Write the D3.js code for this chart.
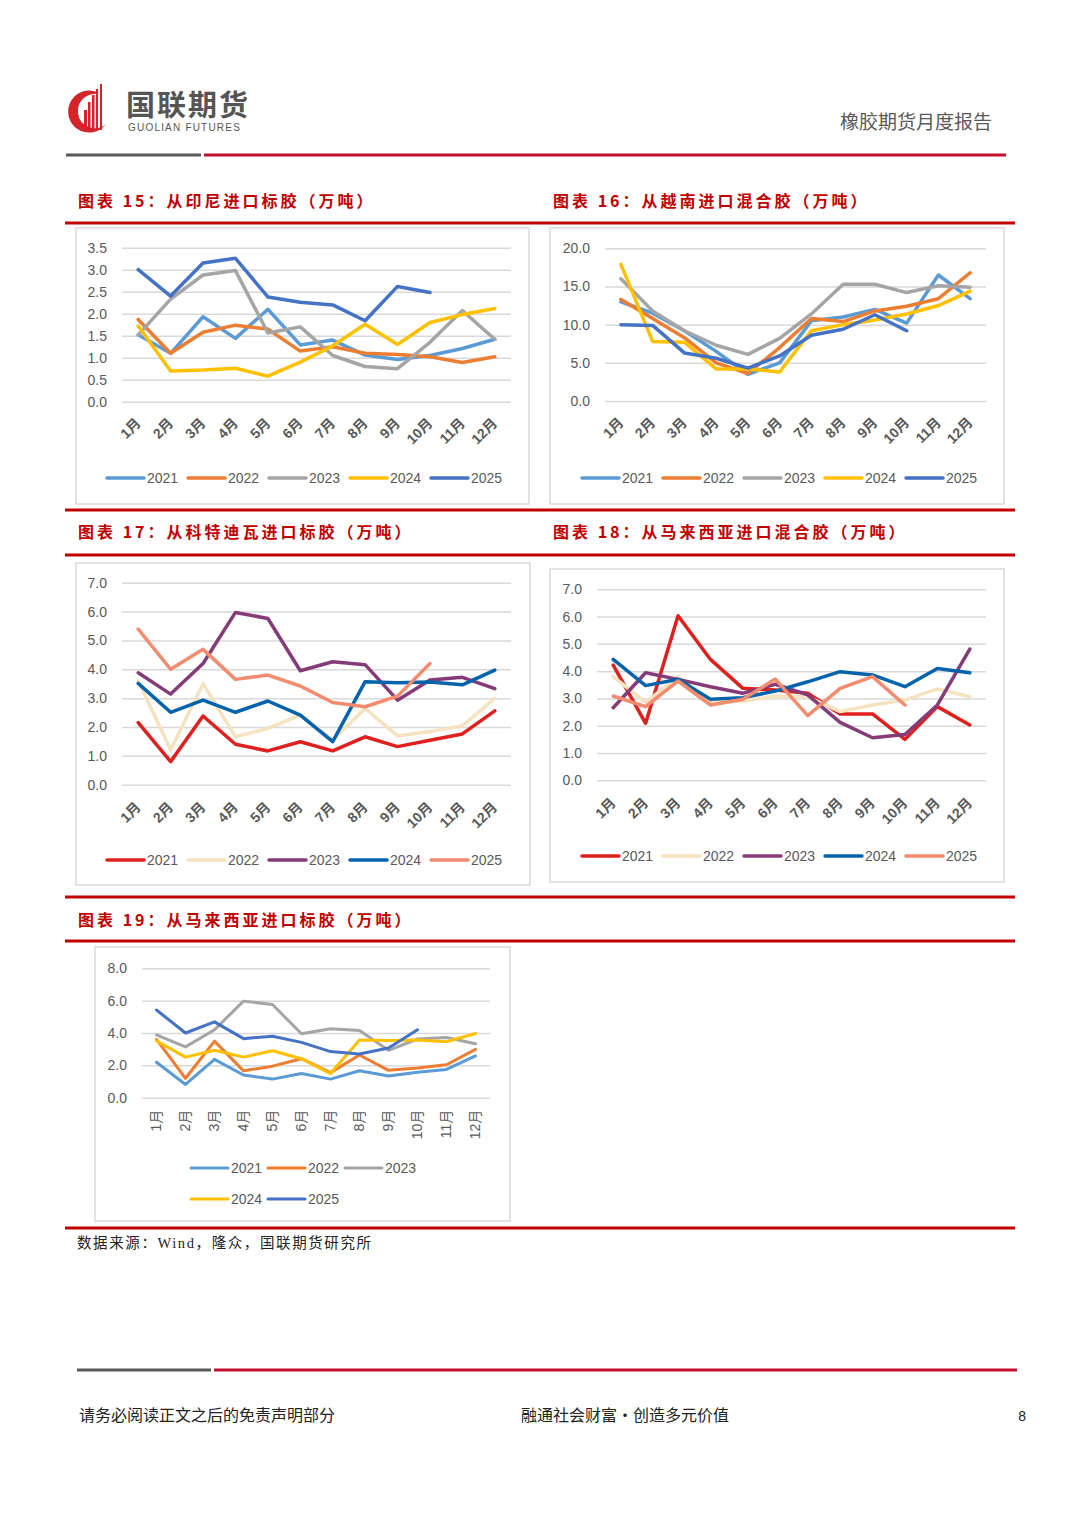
<!DOCTYPE html>
<html>
<head>
<meta charset="utf-8">
<script src="https://cdn.jsdelivr.net/npm/d3@7"></script>
<style>
  body { margin: 0; background: #fff; }
  svg { display: block; }
</style>
</head>
<body>
<svg id="page" width="1080" height="1527"></svg>
<script>
const months = ["1月", "2月", "3月", "4月", "5月", "6月", "7月", "8月", "9月", "10月", "11月", "12月"];
const years = ["2021", "2022", "2023", "2024", "2025"];

// 图表15 从印尼进口标胶
const indo2021 = [1.52, 1.10, 1.93, 1.44, 2.10, 1.29, 1.40, 1.06, 0.96, 1.05, 1.21, 1.42];
const indo2022 = [1.87, 1.10, 1.58, 1.74, 1.65, 1.15, 1.25, 1.10, 1.07, 1.02, 0.89, 1.02];
const indo2023 = [1.52, 2.33, 2.88, 2.98, 1.56, 1.70, 1.05, 0.80, 0.75, 1.35, 2.07, 1.42];
const indo2024 = [1.72, 0.70, 0.72, 0.76, 0.58, 0.90, 1.27, 1.76, 1.30, 1.80, 1.98, 2.12];
const indo2025 = [3.00, 2.40, 3.15, 3.26, 2.38, 2.26, 2.20, 1.84, 2.62, 2.48];

// 图表16 从越南进口混合胶
const viet2021 = [13.0, 11.5, 9.2, 6.5, 3.5, 5.0, 10.5, 11.0, 12.0, 10.2, 16.5, 13.4];
const viet2022 = [13.3, 10.8, 8.3, 5.0, 3.6, 7.0, 10.8, 10.4, 11.8, 12.4, 13.4, 16.8];
const viet2023 = [16.0, 11.8, 9.2, 7.3, 6.1, 8.2, 11.4, 15.3, 15.3, 14.2, 15.1, 14.9];
const viet2024 = [17.9, 7.8, 7.7, 4.2, 4.2, 3.8, 9.2, 10.0, 10.6, 11.4, 12.5, 14.4];
const viet2025 = [10.0, 9.9, 6.3, 5.6, 4.3, 5.9, 8.6, 9.4, 11.3, 9.2];

// 图表17 从科特迪瓦进口标胶
const civ2021 = [2.15, 0.80, 2.38, 1.40, 1.17, 1.49, 1.17, 1.66, 1.32, 1.54, 1.76, 2.56];
const civ2022 = [3.60, 1.20, 3.50, 1.66, 1.95, 2.41, 1.55, 2.64, 1.69, 1.84, 2.04, 2.99];
const civ2023 = [3.88, 3.14, 4.20, 5.97, 5.76, 3.95, 4.26, 4.16, 2.93, 3.63, 3.72, 3.33];
const civ2024 = [3.51, 2.51, 2.93, 2.51, 2.90, 2.41, 1.49, 3.57, 3.53, 3.56, 3.46, 3.97];
const civ2025 = [5.39, 4.00, 4.69, 3.65, 3.80, 3.42, 2.85, 2.70, 3.07, 4.20];

// 图表18 从马来西亚进口混合胶
const myMix2021 = [4.22, 2.09, 6.03, 4.43, 3.37, 3.31, 3.19, 2.43, 2.43, 1.50, 2.70, 2.03];
const myMix2022 = [3.80, 2.86, 3.80, 2.86, 2.90, 3.09, 3.06, 2.52, 2.76, 2.94, 3.35, 3.06];
const myMix2023 = [2.66, 3.94, 3.70, 3.43, 3.19, 3.52, 3.13, 2.12, 1.56, 1.68, 2.76, 4.81];
const myMix2024 = [4.43, 3.47, 3.70, 2.97, 3.03, 3.27, 3.61, 3.98, 3.86, 3.43, 4.10, 3.94];
const myMix2025 = [3.09, 2.70, 3.64, 2.76, 2.97, 3.71, 2.37, 3.37, 3.80, 2.76];

// 图表19 从马来西亚进口标胶
const myStd2021 = [2.19, 0.82, 2.37, 1.40, 1.15, 1.50, 1.15, 1.67, 1.34, 1.57, 1.75, 2.58];
const myStd2022 = [3.60, 1.20, 3.50, 1.66, 1.95, 2.41, 1.55, 2.64, 1.69, 1.84, 2.04, 2.99];
const myStd2023 = [3.88, 3.14, 4.20, 5.97, 5.76, 3.95, 4.26, 4.16, 2.93, 3.63, 3.72, 3.33];
const myStd2024 = [3.51, 2.51, 2.93, 2.51, 2.90, 2.41, 1.49, 3.57, 3.53, 3.56, 3.46, 3.97];
const myStd2025 = [5.42, 4.00, 4.69, 3.65, 3.80, 3.42, 2.85, 2.70, 3.07, 4.20];

const officeColors = ["#5b9bd5", "#ed7d31", "#a5a5a5", "#ffc000", "#4472c4"];
const warmColors = ["#e0201f", "#f5e2bf", "#853b78", "#0563ac", "#f38b6e"];

const svg = d3.select("#page");
const txtFont = "'Liberation Sans', 'Noto Sans CJK SC', sans-serif";
const cjkFont = "'Noto Sans CJK SC', sans-serif";

// ---- header ----
const logo = svg.append("g");
logo.append("path")
  .attr("d", "M99,93 A21,21 0 1 0 106,124 A17,17 0 0 1 78,113 A17,17 0 0 1 94,94 Z")
  .attr("fill", "#d3232b");
[[84, 110, 3], [88, 102, 2.5], [92, 95, 2.5], [96, 89, 2], [100, 84, 2]].forEach(b => {
  logo.append("rect").attr("x", b[0]).attr("y", b[1]).attr("width", b[2]).attr("height", 130 - b[1])
    .attr("fill", "#d3232b");
});
logo.append("text").attr("x", 126).attr("y", 116).text("国联期货")
  .attr("font-family", cjkFont).attr("font-size", 29).attr("font-weight", "bold")
  .attr("fill", "#555").attr("letter-spacing", 2);
logo.append("text").attr("x", 128).attr("y", 131).text("GUOLIAN FUTURES")
  .attr("font-family", txtFont).attr("font-size", 10).attr("fill", "#555")
  .attr("letter-spacing", 1.2);

svg.append("text").attr("x", 992).attr("y", 129).attr("text-anchor", "end")
  .text("橡胶期货月度报告").attr("font-family", cjkFont).attr("font-size", 19).attr("fill", "#595959");

function doubleRule(y, x0, xm, x1) {
  svg.append("rect").attr("x", x0).attr("y", y - 1.5).attr("width", xm - x0).attr("height", 3).attr("fill", "#595959");
  svg.append("rect").attr("x", xm + 3).attr("y", y - 1.5).attr("width", x1 - xm - 3).attr("height", 3).attr("fill", "#c8102e");
}
doubleRule(155, 66, 201, 1006);
doubleRule(1370, 77, 211, 1017);

// ---- section rules and titles ----
[223, 510, 555, 897, 941, 1228].forEach(y => {
  svg.append("rect").attr("x", 65).attr("y", y - 1.5).attr("width", 950).attr("height", 3).attr("fill", "#c00000");
});

function title(x, y, num, text) {
  svg.append("text").attr("x", x).attr("y", y)
    .attr("font-family", cjkFont).attr("font-size", 16).attr("font-weight", "bold")
    .attr("fill", "#c00000").attr("letter-spacing", 3)
    .text(`图表 ${num}：${text}`);
}
title(78, 207, 15, "从印尼进口标胶（万吨）");
title(553, 207, 16, "从越南进口混合胶（万吨）");
title(78, 538, 17, "从科特迪瓦进口标胶（万吨）");
title(553, 538, 18, "从马来西亚进口混合胶（万吨）");
title(78, 926, 19, "从马来西亚进口标胶（万吨）");

// ---- charts ----
function lineChart(cfg) {
  const g = svg.append("g");
  const [bx0, by0, bx1, by1] = cfg.box;
  g.append("rect").attr("x", bx0).attr("y", by0).attr("width", bx1 - bx0).attr("height", by1 - by0)
    .attr("fill", "#fff").attr("stroke", "#d9d9d9").attr("stroke-width", 1.5);

  const [px0, px1, pyTop, pyBottom] = cfg.plot;
  const x = d3.scaleBand().domain(months).range([px0, px1]);
  const y = d3.scaleLinear().domain([0, cfg.yMax]).range([pyBottom, pyTop]);
  const ticks = d3.range(0, cfg.yMax + cfg.yStep / 2, cfg.yStep);

  const yAxis = g.append("g").attr("transform", `translate(${px0},0)`)
    .call(d3.axisLeft(y).tickValues(ticks).tickSize(-(px1 - px0)).tickPadding(15).tickFormat(d3.format(".1f")));
  yAxis.select(".domain").remove();
  yAxis.selectAll(".tick line").attr("stroke", "#d9d9d9").attr("stroke-width", 1.5);
  yAxis.selectAll(".tick text").attr("font-family", txtFont).attr("font-size", 14).attr("fill", "#595959");

  const xAxis = g.append("g").attr("transform", `translate(0,${pyBottom})`)
    .call(d3.axisBottom(x).tickSize(0).tickPadding(0));
  xAxis.select(".domain").remove();
  const xt = xAxis.selectAll(".tick text")
    .attr("font-family", txtFont).attr("font-size", 14).attr("fill", "#595959")
    .attr("text-anchor", "end").attr("dy", "0.35em");
  if (cfg.vertical) {
    xt.attr("y", 0).attr("transform", `translate(0,${cfg.labelOffset}) rotate(-90)`);
  } else {
    xt.attr("y", 0).attr("font-weight", "bold")
      .attr("transform", `translate(0,${cfg.labelOffset}) rotate(-45)`);
  }

  const line = d3.line()
    .x((d, i) => x(months[i]) + x.bandwidth() / 2)
    .y(d => y(d));
  cfg.series.forEach((s, i) => {
    g.append("path").attr("d", line(s)).attr("fill", "none")
      .attr("stroke", cfg.colors[i]).attr("stroke-width", cfg.lw)
      .attr("stroke-linejoin", "round").attr("stroke-linecap", "round");
  });

  const legend = g.append("g");
  years.forEach((yr, i) => {
    const row = Math.floor(i / cfg.perRow), col = i % cfg.perRow;
    const lx = cfg.legendX + col * cfg.legendStep;
    const ly = cfg.legendY + row * 31;
    legend.append("line").attr("x1", lx).attr("x2", lx + 37).attr("y1", ly).attr("y2", ly)
      .attr("stroke", cfg.colors[i]).attr("stroke-width", cfg.lw).attr("stroke-linecap", "round");
    legend.append("text").attr("x", lx + 40).attr("y", ly).attr("dy", "0.35em")
      .attr("font-family", txtFont).attr("font-size", 14).attr("fill", "#595959").text(yr);
  });
}

lineChart({
  box: [76, 228, 529, 504], plot: [122, 511, 247.7, 401.7], yMax: 3.5, yStep: 0.5,
  series: [indo2021, indo2022, indo2023, indo2024, indo2025], colors: officeColors, lw: 3.5,
  labelOffset: 19, legendX: 107, legendY: 478, legendStep: 81, perRow: 5
});
lineChart({
  box: [550, 228, 1004, 504], plot: [605, 986, 248.3, 401], yMax: 20, yStep: 5,
  series: [viet2021, viet2022, viet2023, viet2024, viet2025], colors: officeColors, lw: 3.5,
  labelOffset: 19, legendX: 582, legendY: 478, legendStep: 81, perRow: 5
});
lineChart({
  box: [76, 563, 530, 885], plot: [122, 511, 582.7, 784.7], yMax: 7, yStep: 1,
  series: [civ2021, civ2022, civ2023, civ2024, civ2025], colors: warmColors, lw: 3.5,
  labelOffset: 20, legendX: 107, legendY: 860, legendStep: 81, perRow: 5
});
lineChart({
  box: [550, 569, 1004, 882], plot: [597, 986, 589.3, 780.3], yMax: 7, yStep: 1,
  series: [myMix2021, myMix2022, myMix2023, myMix2024, myMix2025], colors: warmColors, lw: 3.5,
  labelOffset: 20, legendX: 582, legendY: 856, legendStep: 81, perRow: 5
});
lineChart({
  box: [95, 947, 510, 1221], plot: [142, 490, 968.3, 1097.7], yMax: 8, yStep: 2,
  series: [myStd2021, myStd2022, myStd2023, myStd2024, myStd2025], colors: officeColors, lw: 3,
  vertical: true, labelOffset: 12, legendX: 191, legendY: 1168, legendStep: 77, perRow: 3
});

// ---- source & footer ----
svg.append("text").attr("x", 77).attr("y", 1248)
  .attr("font-family", "'Liberation Serif', 'Noto Sans CJK SC', serif").attr("font-size", 14.5)
  .attr("letter-spacing", 1.6).attr("fill", "#222")
  .text("数据来源：Wind，隆众，国联期货研究所");

svg.append("text").attr("x", 79).attr("y", 1421).attr("font-family", cjkFont).attr("font-size", 16)
  .attr("fill", "#222").text("请务必阅读正文之后的免责声明部分");
svg.append("text").attr("x", 521).attr("y", 1421).attr("font-family", cjkFont).attr("font-size", 16)
  .attr("fill", "#222").text("融通社会财富·创造多元价值");
svg.append("text").attr("x", 1026).attr("y", 1421).attr("text-anchor", "end").attr("font-family", txtFont)
  .attr("font-size", 14).attr("fill", "#222").text("8");
</script>
</body>
</html>
